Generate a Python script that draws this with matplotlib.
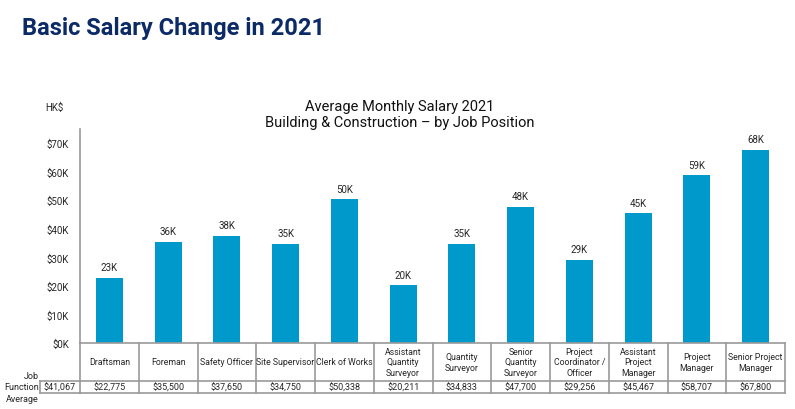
import matplotlib
matplotlib.use("Agg")
import matplotlib.pyplot as plt
from matplotlib.lines import Line2D

plt.rcParams['font.family'] = ['Roboto', 'DejaVu Sans']

categories = ["Draftsman", "Foreman", "Safety Officer", "Site Supervisor", "Clerk of Works",
              "Assistant\nQuantity\nSurveyor", "Quantity\nSurveyor", "Senior\nQuantity\nSurveyor",
              "Project\nCoordinator /\nOfficer", "Assistant\nProject\nManager", "Project\nManager",
              "Senior Project\nManager"]
salaries = [22775, 35500, 37650, 34750, 50338, 20211, 34833, 47700, 29256, 45467, 58707, 67800]
function_average = 41067
y_ticks = [0, 10000, 20000, 30000, 40000, 50000, 60000, 70000]
y_tick_labels = ["$0K", "$10K", "$20K", "$30K", "$40K", "$50K", "$60K", "$70K"]

W, H = 795, 410
fig = plt.figure(figsize=(W / 100, H / 100), dpi=100)
ax = fig.add_axes([80 / W, 1 - 344 / H, 705 / W, 214 / H])

bar_color = "#0099cc"
grid_c = "#9a9a9a"
txt_c = "#262626"
x = list(range(len(salaries)))
bars = ax.bar(x, salaries, width=0.46, color=bar_color)
for xi, v in zip(x, salaries):
    ax.annotate(f"{int(v / 1000 + 0.5)}K", (xi, v), xytext=(0, 4), textcoords="offset points",
                ha="center", va="bottom", fontsize=7, color=txt_c)

ax.set_xlim(-0.5, len(salaries) - 0.5)
ax.set_ylim(0, 75000)
ax.set_yticks(y_ticks)
ax.set_yticklabels(y_tick_labels, fontsize=7, color=txt_c)
ax.set_xticks([])
ax.tick_params(axis="y", length=0, pad=8)
for s in ["top", "right"]:
    ax.spines[s].set_visible(False)
for s in ["left", "bottom"]:
    ax.spines[s].set_color(grid_c)
    ax.spines[s].set_linewidth(1.2)

# table below axis
ah = 214.0
y_head_bot = -38 / ah
y_val_bot = -50 / ah
bt = ax.get_xaxis_transform()
for b in [i - 0.5 for i in range(len(salaries) + 1)]:
    ax.add_line(Line2D([b, b], [0, y_val_bot], transform=bt, color=grid_c, lw=1.2, clip_on=False))
ax.add_line(Line2D([-0.5, len(salaries) - 0.5], [y_head_bot, y_head_bot], transform=bt,
                   color=grid_c, lw=1.2, clip_on=False))
ax.add_line(Line2D([-0.5, len(salaries) - 0.5], [y_val_bot, y_val_bot], transform=bt,
                   color=grid_c, lw=1.2, clip_on=False))
for xi, c, v in zip(x, categories, salaries):
    ax.text(xi, y_head_bot / 2, c, transform=bt, ha="center", va="center", fontsize=6.3,
            color=txt_c, linespacing=1.15, clip_on=False)
    ax.text(xi, (y_head_bot + y_val_bot) / 2, f"${v:,}", transform=bt, ha="center",
            va="center", fontsize=6.5, color=txt_c, clip_on=False)

# first cell (function average)
at = ax.transAxes
x0 = -40 / 705
ax.add_line(Line2D([x0, x0], [y_head_bot, y_val_bot], transform=at, color=grid_c, lw=1.2, clip_on=False))
ax.add_line(Line2D([x0, 0], [y_head_bot, y_head_bot], transform=at, color=grid_c, lw=1.2, clip_on=False))
ax.add_line(Line2D([x0, 0], [y_val_bot, y_val_bot], transform=at, color=grid_c, lw=1.2, clip_on=False))
ax.text(x0 / 2, (y_head_bot + y_val_bot) / 2, f"${function_average:,}", transform=at,
        ha="center", va="center", fontsize=6.5, color=txt_c, clip_on=False)
ax.text(x0 - 1 / 705, (y_head_bot + y_val_bot) / 2, "Job\nFunction\nAverage", transform=at,
        ha="right", va="center", fontsize=6.5, color=txt_c, linespacing=1.35, clip_on=False)

fig.text(45 / W, 1 - 108 / H, "HK$", fontsize=7, color=txt_c, ha="left", va="center")
fig.text(400 / W, 1 - 115 / H, "Average Monthly Salary 2021\nBuilding & Construction \u2013 by Job Position",
         fontsize=10.5, color="#111111", ha="center", va="center", linespacing=1.2)
fig.text(22 / W, 1 - 28 / H, "Basic Salary Change in 2021", fontsize=17, fontweight="bold",
         color="#0b2a66", ha="left", va="center")

fig.savefig("out.png", dpi=100, facecolor="white")
